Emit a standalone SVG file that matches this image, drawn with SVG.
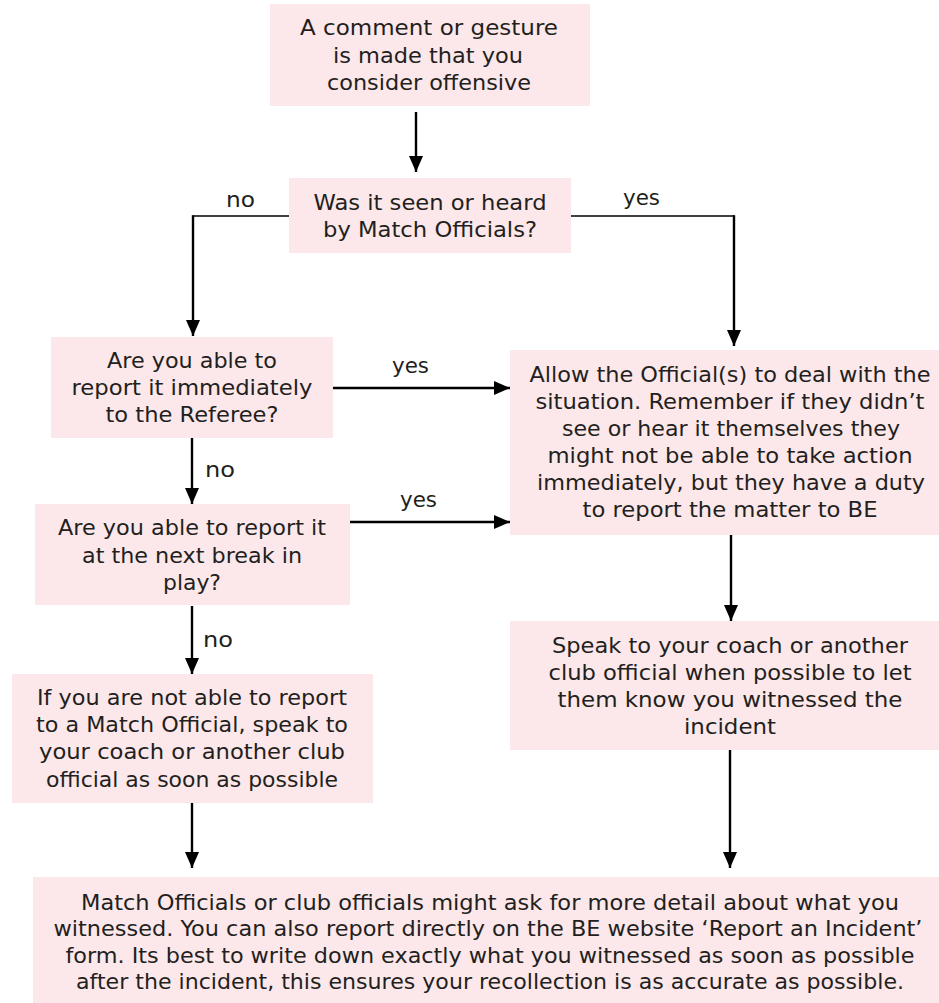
<svg xmlns="http://www.w3.org/2000/svg" width="939" height="1003" viewBox="0 0 939 1003">
<defs>
<style>
.box{fill:#fce8ea;}
.t{font-family:"DejaVu Sans","Liberation Sans",sans-serif;font-size:20.5px;fill:#231f20;text-anchor:middle;}
.lbl{font-family:"DejaVu Sans","Liberation Sans",sans-serif;font-size:20.5px;fill:#231f20;}
.c{fill:none;stroke:#000;stroke-width:2.4;}
.h{fill:none;stroke:#000;stroke-width:1.6;}
</style>
<marker id="ah" viewBox="0 0 16 14" refX="16" refY="7" markerWidth="16" markerHeight="14" markerUnits="userSpaceOnUse" orient="auto">
<path d="M0,0 L16,7 L0,14 z" fill="#000"/>
</marker>
</defs>
<rect width="939" height="1003" fill="#fff"/>

<g id="connectors">
<path class="c" d="M416,112 V172" marker-end="url(#ah)"/>
<path class="h" d="M289,216 H193"/>
<path class="c" d="M193,215.2 V336" marker-end="url(#ah)"/>
<path class="h" d="M571,216 H734"/>
<path class="c" d="M734,215.2 V346" marker-end="url(#ah)"/>
<path class="c" d="M333,388 H510" marker-end="url(#ah)"/>
<path class="c" d="M192,438 V504" marker-end="url(#ah)"/>
<path class="c" d="M348,522 H510" marker-end="url(#ah)"/>
<path class="c" d="M192,606 V674" marker-end="url(#ah)"/>
<path class="c" d="M731,535 V621" marker-end="url(#ah)"/>
<path class="c" d="M730,750 V868" marker-end="url(#ah)"/>
<path class="c" d="M192,803 V868" marker-end="url(#ah)"/>
<text class="lbl" x="226" y="207" textLength="29" lengthAdjust="spacingAndGlyphs">no</text>
<text class="lbl" x="623" y="205" textLength="37" lengthAdjust="spacingAndGlyphs">yes</text>
<text class="lbl" x="392" y="373" textLength="37" lengthAdjust="spacingAndGlyphs">yes</text>
<text class="lbl" x="205" y="477" textLength="30" lengthAdjust="spacingAndGlyphs">no</text>
<text class="lbl" x="400" y="507" textLength="37" lengthAdjust="spacingAndGlyphs">yes</text>
<text class="lbl" x="203" y="647" textLength="30" lengthAdjust="spacingAndGlyphs">no</text>
</g>

<g id="start">
<rect class="box" x="270" y="4" width="320" height="102"/>
<text class="t" x="429" y="35" textLength="258" lengthAdjust="spacingAndGlyphs">A comment or gesture</text>
<text class="t" x="428" y="63" textLength="190" lengthAdjust="spacingAndGlyphs">is made that you</text>
<text class="t" x="429" y="90" textLength="204" lengthAdjust="spacingAndGlyphs">consider offensive</text>
</g>

<g id="seen-or-heard">
<rect class="box" x="289" y="178" width="282" height="75"/>
<text class="t" x="430" y="210" textLength="233" lengthAdjust="spacingAndGlyphs">Was it seen or heard</text>
<text class="t" x="430" y="237" textLength="214" lengthAdjust="spacingAndGlyphs">by Match Officials?</text>
</g>

<g id="report-immediately">
<rect class="box" x="51" y="337" width="282" height="101"/>
<text class="t" x="192" y="368" textLength="170" lengthAdjust="spacingAndGlyphs">Are you able to</text>
<text class="t" x="192" y="395" textLength="241" lengthAdjust="spacingAndGlyphs">report it immediately</text>
<text class="t" x="192" y="422" textLength="173" lengthAdjust="spacingAndGlyphs">to the Referee?</text>
</g>

<g id="report-next-break">
<rect class="box" x="35" y="504" width="315" height="101"/>
<text class="t" x="192" y="535" textLength="268" lengthAdjust="spacingAndGlyphs">Are you able to report it</text>
<text class="t" x="192" y="563" textLength="220" lengthAdjust="spacingAndGlyphs">at the next break in</text>
<text class="t" x="192" y="590" textLength="58" lengthAdjust="spacingAndGlyphs">play?</text>
</g>

<g id="speak-club-official">
<rect class="box" x="12" y="674" width="361" height="129"/>
<text class="t" x="192" y="705" textLength="310" lengthAdjust="spacingAndGlyphs">If you are not able to report</text>
<text class="t" x="192" y="732" textLength="312" lengthAdjust="spacingAndGlyphs">to a Match Official, speak to</text>
<text class="t" x="192" y="759" textLength="306" lengthAdjust="spacingAndGlyphs">your coach or another club</text>
<text class="t" x="192" y="787" textLength="292" lengthAdjust="spacingAndGlyphs">official as soon as possible</text>
</g>

<g id="allow-officials">
<rect class="box" x="510" y="350" width="429" height="185"/>
<text class="t" x="730" y="382" textLength="401" lengthAdjust="spacingAndGlyphs">Allow the Official(s) to deal with the</text>
<text class="t" x="730" y="409" textLength="389" lengthAdjust="spacingAndGlyphs">situation. Remember if they didn’t</text>
<text class="t" x="731" y="436" textLength="338" lengthAdjust="spacingAndGlyphs">see or hear it themselves they</text>
<text class="t" x="730" y="463" textLength="365" lengthAdjust="spacingAndGlyphs">might not be able to take action</text>
<text class="t" x="731" y="490" textLength="388" lengthAdjust="spacingAndGlyphs">immediately, but they have a duty</text>
<text class="t" x="730" y="517" textLength="295" lengthAdjust="spacingAndGlyphs">to report the matter to BE</text>
</g>

<g id="speak-coach">
<rect class="box" x="510" y="621" width="429" height="129"/>
<text class="t" x="730" y="653" textLength="356" lengthAdjust="spacingAndGlyphs">Speak to your coach or another</text>
<text class="t" x="730" y="680" textLength="363" lengthAdjust="spacingAndGlyphs">club official when possible to let</text>
<text class="t" x="730" y="707" textLength="345" lengthAdjust="spacingAndGlyphs">them know you witnessed the</text>
<text class="t" x="730" y="734" textLength="92" lengthAdjust="spacingAndGlyphs">incident</text>
</g>

<g id="more-detail">
<rect class="box" x="33" y="877" width="906" height="126"/>
<text class="t" x="490" y="910" textLength="818" lengthAdjust="spacingAndGlyphs">Match Officials or club officials might ask for more detail about what you</text>
<text class="t" x="488" y="936" textLength="869" lengthAdjust="spacingAndGlyphs">witnessed. You can also report directly on the BE website ‘Report an Incident’</text>
<text class="t" x="490" y="963" textLength="849" lengthAdjust="spacingAndGlyphs">form. Its best to write down exactly what you witnessed as soon as possible</text>
<text class="t" x="490" y="989" textLength="828" lengthAdjust="spacingAndGlyphs">after the incident, this ensures your recollection is as accurate as possible.</text>
</g>
</svg>
